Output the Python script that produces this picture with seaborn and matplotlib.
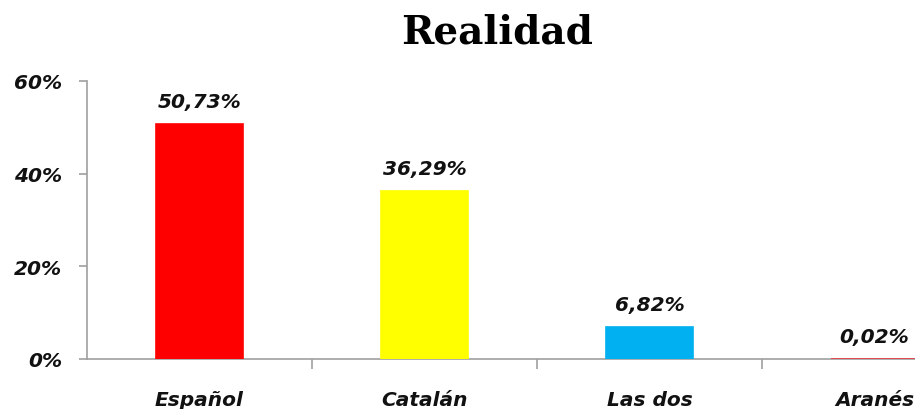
import matplotlib
matplotlib.use("Agg")
import matplotlib.pyplot as plt
import seaborn as sns
import pandas as pd
from matplotlib.ticker import FuncFormatter

categories = ["Español", "Catalán", "Las dos", "Aranés"]
values = [50.73, 36.29, 6.82, 0.02]
colors = ["#FF0000", "#FFFF00", "#00B0F0", "#E8383D"]
yticks = [0, 20, 40, 60]
title = "Realidad"

sns.set_theme(style="white")
plt.rcParams['font.family'] = ['DejaVu Sans']

df = pd.DataFrame({"cat": categories, "val": values})

fig = plt.figure(figsize=(9.15, 4.10), dpi=100)
W, H = 915, 410
ax = fig.add_axes([87 / W, (H - 360) / H, 900 / W, 278 / H])

sns.barplot(data=df, x="cat", y="val", hue="cat", palette=colors, legend=False,
            width=0.39, ax=ax, saturation=1, edgecolor=None, linewidth=0)
# make the tiny bar visible as a thin line
for p, c in zip(ax.patches, colors):
    p.set_edgecolor(c)
    p.set_linewidth(1.2)
    p.set_zorder(3)

ax.set_xlim(-0.5, 3.5)
ax.set_ylim(0, 60)
ax.set_yticks(yticks)
ax.yaxis.set_major_formatter(FuncFormatter(lambda v, _: f"{v:.0f}%"))
ax.set_xlabel("")
ax.set_ylabel("")

for s in ["top", "right"]:
    ax.spines[s].set_visible(False)
for s in ["left", "bottom"]:
    ax.spines[s].set_color("#A0A0A0")
    ax.spines[s].set_linewidth(1.2)

ax.tick_params(axis="y", which="major", left=True, length=6, width=1.2, color="#A0A0A0",
               labelsize=14.5, pad=12)
ax.set_xticks([0, 1, 2, 3])
ax.set_xticklabels(categories)
ax.tick_params(axis="x", which="major", bottom=False, labelsize=14.5, pad=16)
ax.set_xticks([0.5, 1.5, 2.5], minor=True)
ax.tick_params(axis="x", which="minor", bottom=True, length=7, width=1.2, color="#A0A0A0")

for lab in ax.get_yticklabels() + ax.get_xticklabels():
    lab.set_fontstyle("italic")
    lab.set_fontweight("bold")
    lab.set_color("#111111")

for i, v in enumerate(values):
    ax.text(i, v + 2.8, f"{v:.2f}%".replace(".", ","), ha="center", va="bottom",
            fontsize=14.5, fontstyle="italic", fontweight="bold", color="#111111")

fig.text(497 / W, 1 - 33 / H, title, ha="center", va="center", fontsize=28,
         fontweight="bold", family="DejaVu Serif", color="black")

fig.savefig("out.png", dpi=100)
